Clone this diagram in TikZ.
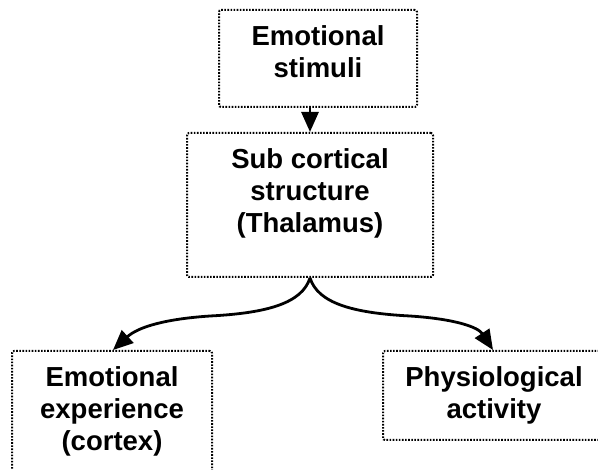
\documentclass[tikz,border=0pt]{standalone}
\usepackage{fontspec}
\setmainfont{Liberation Sans}
\usetikzlibrary{arrows.meta}
\begin{document}
\begin{tikzpicture}[x=1pt,y=-1pt,
  box/.style={draw, line width=2pt, dash pattern=on 1.6pt off 1.5pt, rounded corners=2pt, inner sep=0pt},
  lbl/.style={align=center, font=\fontsize{27.5}{32}\selectfont\bfseries, inner sep=0pt},
  arr/.style={line width=2.8pt, -{Triangle[length=20pt,width=17pt]}}]
\useasboundingbox (0,0) rectangle (598,470);
\clip (0,0) rectangle (598,470);
\node[box, minimum width=198pt, minimum height=97pt] (top) at (318,58.5) {};
\node[box, minimum width=246pt, minimum height=144pt] (mid) at (310,205) {};
\node[box, minimum width=200pt, minimum height=140pt] (left) at (112,421) {};
\node[box, minimum width=240pt, minimum height=89pt] (right) at (503,395.5) {};
\node[lbl] (ttop) at (318,52) {Emotional\\stimuli};
\node[lbl] (tmid) at (310,193) {Sub cortical\\structure\\(Thalamus)};
\node[lbl] (tleft) at (112,411) {Emotional\\experience\\(cortex)};
\node[lbl] (tright) at (494,395) {Physiological\\activity};
\draw[arr] (top.south -| mid.north) -- (mid.north);
\draw[arr] (mid.south) .. controls (302,303) and (268,313) .. (210,316)
  .. controls (165,319) and (138,327) .. ([xshift=1pt]left.north);
\draw[arr] (mid.south) .. controls (318,303) and (352,313) .. (410,316)
  .. controls (455,319) and (478,327) .. ([xshift=-10pt]right.north);
\end{tikzpicture}
\end{document}
